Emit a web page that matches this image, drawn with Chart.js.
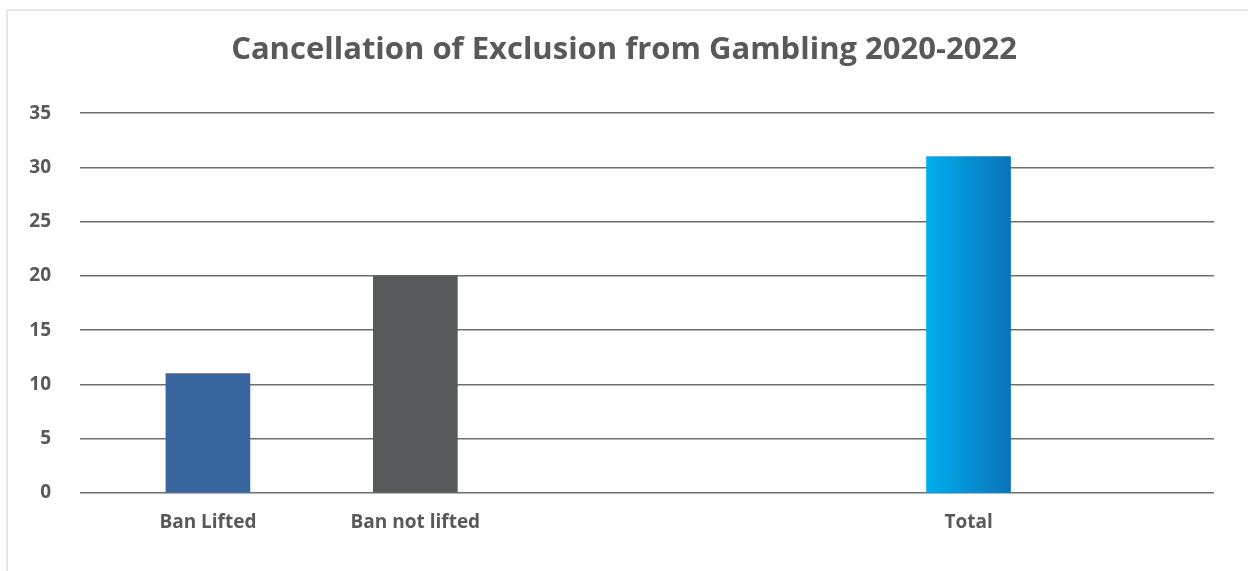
<!DOCTYPE html>
<html>
<head>
<meta charset="utf-8">
<title>Cancellation of Exclusion from Gambling 2020-2022</title>
<script src="https://cdn.jsdelivr.net/npm/chart.js@4.4.1/dist/chart.umd.min.js"></script>
<style>
    html, body {
        margin: 0;
        padding: 0;
        background: #ffffff;
        overflow: hidden;
    }
    .frame {
        position: absolute;
        left: 6px;
        top: 9px;
        width: 1260px;
        height: 600px;
        border-left: 2px solid #e6e6e6;
        border-top: 2px solid #e6e6e6;
    }
    .chart-box {
        position: absolute;
        left: 0;
        top: 0;
        width: 1248px;
        height: 571px;
    }
</style>
</head>
<body>
<div class="frame"></div>
<div class="chart-box">
    <canvas id="exclusionChart" width="1248" height="571"></canvas>
</div>
<script>
// Categories, their slots along the x axis, and counts
const categories = ['Ban Lifted', 'Ban not lifted', 'Total'];
const slots = [2, 5, 13];
const counts = [11, 20, 31];
const yTicks = [0, 5, 10, 15, 20, 25, 30, 35];

const TEXT_GREY = '#58595b';
const GRID_GREY = '#6d6e70';

document.addEventListener('DOMContentLoaded', function() {
    initExclusionChart();
});

/**
 * Fill for each bar; the total gets a left-to-right blue gradient
 */
function barFill(context) {
    const fills = ['#3a66a0', '#58595b', null];
    const i = context.dataIndex;
    if (fills[i]) {
        return fills[i];
    }
    const chart = context.chart;
    if (!chart.chartArea || !chart.scales.x) {
        return '#0093d6';
    }
    const cx = chart.scales.x.getPixelForValue(slots[i]);
    const grad = chart.ctx.createLinearGradient(cx - 42, 0, cx + 42, 0);
    grad.addColorStop(0, '#00aeef');
    grad.addColorStop(1, '#0a73b9');
    return grad;
}

function initExclusionChart() {
    const ctx = document.getElementById('exclusionChart').getContext('2d');

    new Chart(ctx, {
        type: 'bar',
        data: {
            datasets: [{
                label: 'Cancellations',
                data: slots.map((s, i) => ({ x: s, y: counts[i] })),
                backgroundColor: barFill,
                borderWidth: 0,
                barThickness: 84
            }]
        },
        options: {
            responsive: false,
            animation: false,
            layout: {
                padding: 0
            },
            plugins: {
                legend: { display: false },
                tooltip: { enabled: false },
                title: {
                    display: true,
                    text: 'Cancellation of Exclusion from Gambling 2020-2022',
                    color: TEXT_GREY,
                    font: { family: 'Open Sans', size: 31, weight: 'bold' },
                    padding: { top: 32, bottom: 44 }
                }
            },
            scales: {
                x: {
                    type: 'linear',
                    min: 0.15,
                    max: 16.55,
                    offset: false,
                    grid: { display: false },
                    border: { display: false },
                    afterBuildTicks: function(scale) {
                        scale.ticks = slots.map(v => ({ value: v }));
                    },
                    afterFit: function(scale) {
                        scale.height = 78;
                    },
                    ticks: {
                        autoSkip: false,
                        maxRotation: 0,
                        padding: 10,
                        color: TEXT_GREY,
                        font: { family: 'Open Sans', size: 19, weight: 'bold' },
                        callback: function(value) {
                            return categories[slots.indexOf(value)];
                        }
                    }
                },
                y: {
                    min: 0,
                    max: 35,
                    afterBuildTicks: function(scale) {
                        scale.ticks = yTicks.map(v => ({ value: v }));
                    },
                    afterFit: function(scale) {
                        scale.width = 80;
                    },
                    grid: {
                        color: GRID_GREY,
                        lineWidth: 1.5,
                        drawTicks: false
                    },
                    border: { display: false },
                    ticks: {
                        padding: 29,
                        color: TEXT_GREY,
                        font: { family: 'Open Sans', size: 19, weight: 'bold' }
                    }
                },
                // empty right-hand margin so the gridlines stop short of the edge
                yRight: {
                    position: 'right',
                    min: 0,
                    max: 35,
                    grid: { display: false },
                    border: { display: false },
                    ticks: { display: false },
                    afterFit: function(scale) {
                        scale.width = 34;
                    }
                }
            }
        }
    });
}
</script>
</body>
</html>
